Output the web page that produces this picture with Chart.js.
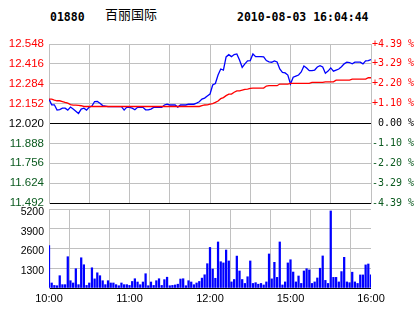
<!DOCTYPE html>
<html>
<head>
<meta charset="utf-8">
<script src="https://cdn.jsdelivr.net/npm/chart.js@4/dist/chart.umd.min.js"></script>
<style>
html,body{margin:0;padding:0;background:#fff;}
#wrap{position:relative;width:414px;height:314px;overflow:hidden;}
.layer{position:absolute;left:0;top:0;width:414px;height:314px;}
.hd{position:absolute;white-space:pre;color:#000;}
.mono{font-family:"DejaVu Sans Mono",monospace;font-weight:bold;font-size:11.5px;line-height:12px;top:11px;}
.cjk{font-family:"Noto Sans CJK SC",sans-serif;font-size:13px;line-height:13px;top:7px;}
</style>
</head>
<body>
<div id="wrap">
  <div class="hd mono" style="left:50px">01880</div>
  <div class="hd cjk" style="left:105px">百丽国际</div>
  <div class="hd mono" style="left:237px">2010-08-03 16:04:44</div>
  <div class="layer"><canvas id="priceChart" width="414" height="314"></canvas></div>
  <div class="layer"><canvas id="volChart" width="414" height="314"></canvas></div>
</div>
<script>
// ---- data (one point per 2 minutes of trading, 10:00-12:30 and 14:30-16:00) ----
const STEP_MIN = 2;
const prevClose = 12.020;

const price = [
 12.182,12.144,12.144,12.109,12.112,12.122,12.122,12.109,12.129,12.116,
 12.102,12.087,12.116,12.122,12.109,12.129,12.136,12.166,12.167,12.155,
 12.139,12.136,12.132,12.132,12.132,12.132,12.132,12.132,12.109,12.129,
 12.127,12.122,12.111,12.127,12.127,12.127,12.111,12.111,12.116,12.127,
 12.127,12.127,12.127,12.143,12.148,12.143,12.143,12.143,12.129,12.143,
 12.143,12.143,12.148,12.148,12.148,12.155,12.164,12.182,12.189,12.202,
 12.215,12.276,12.286,12.342,12.382,12.375,12.462,12.477,12.464,12.478,
 12.482,12.442,12.393,12.416,12.436,12.438,12.482,12.464,12.464,12.464,
 12.462,12.438,12.429,12.427,12.436,12.429,12.382,12.360,12.356,12.342,
 12.282,12.327,12.335,12.342,12.362,12.402,12.389,12.371,12.371,12.375,
 12.395,12.404,12.395,12.354,12.368,12.389,12.368,12.375,12.382,12.397,
 12.416,12.427,12.425,12.416,12.427,12.427,12.427,12.416,12.436,12.438,
 12.445
];

const avgPrice = [
 12.182,12.182,12.175,12.171,12.171,12.166,12.160,12.155,12.145,12.142,
 12.142,12.140,12.138,12.133,12.133,12.133,12.133,12.133,12.133,12.133,
 12.133,12.133,12.133,12.133,12.133,12.133,12.133,12.133,12.133,12.133,
 12.133,12.133,12.133,12.133,12.133,12.133,12.133,12.133,12.133,12.133,
 12.133,12.133,12.133,12.133,12.133,12.133,12.133,12.133,12.133,12.133,
 12.133,12.133,12.133,12.133,12.133,12.133,12.133,12.138,12.143,12.144,
 12.148,12.152,12.160,12.169,12.185,12.192,12.205,12.215,12.215,12.228,
 12.237,12.237,12.242,12.246,12.249,12.253,12.255,12.255,12.255,12.255,
 12.255,12.269,12.271,12.271,12.271,12.271,12.282,12.282,12.282,12.282,
 12.286,12.286,12.286,12.286,12.286,12.286,12.286,12.286,12.293,12.293,
 12.293,12.293,12.293,12.297,12.297,12.297,12.297,12.308,12.308,12.308,
 12.308,12.308,12.308,12.315,12.315,12.315,12.315,12.315,12.315,12.324,
 12.324
];

const volume = [
 2800,330,170,150,810,220,220,2060,480,330,
 1270,220,1990,1530,170,330,1330,600,1000,810,
 480,220,480,330,330,220,150,330,220,220,
 170,430,610,395,217,395,940,150,395,170,
 480,610,170,550,710,150,171,200,250,590,
 610,150,480,395,217,330,430,650,870,1600,
 2670,1250,640,3030,1730,1650,2500,1780,400,560,
 2100,1120,560,300,740,1780,300,350,250,300,
 200,400,2240,600,1690,700,3030,200,400,1650,
 1860,1050,400,790,300,1120,1270,1190,300,400,
 660,1300,2110,500,300,5070,700,700,400,1080,
 2020,400,350,1040,400,300,860,860,1520,1580,
 860
];

const priceTicks = [11.492,11.624,11.756,11.888,12.020,12.152,12.284,12.416,12.548];
const priceTickLabels = ["11.492","11.624","11.756","11.888","12.020","12.152","12.284","12.416","12.548"];
const pctTickLabels = ["-4.39 %","-3.29 %","-2.20 %","-1.10 %"," 0.00 %","+1.10 %","+2.20 %","+3.29 %","+4.39 %"];
const volTicks = [0,1300,2600,3900,5200];
const volTickLabels = ["","1300","2600","3900","5200"];
const timeTicks = [0,30,60,90,120,150,180,210,240];
const timeTickLabels = ["10:00","","11:00","","12:00","","15:00","","16:00"];

// ---- styles ----
const GRID = '#c0c0c0';
const RED = '#ff0000', GREEN = '#0b5a1f';
function tickColor(v){ return v > prevClose + 1e-9 ? RED : (v < prevClose - 1e-9 ? GREEN : '#000'); }

const pricePts = price.map((p,i)=>({x:i*STEP_MIN, y:p}));
const avgPts = avgPrice.map((p,i)=>({x:i*STEP_MIN, y:p}));
const volPts = volume.map((v,i)=>({x:i*STEP_MIN, y:v}));

new Chart(document.getElementById('priceChart'), {
  type: 'line',
  data: { datasets: [
    { data: avgPts, borderColor: RED, borderWidth: 1.3, pointRadius: 0, tension: 0, yAxisID: 'y' },
    { data: pricePts, borderColor: '#0000ff', borderWidth: 1.3, pointRadius: 0, tension: 0, yAxisID: 'y' }
  ]},
  options: {
    responsive: false, animation: false, devicePixelRatio: 1,
    layout: { padding: { top: 44, bottom: 111, left: 0, right: 0 } },
    plugins: { legend: { display: false }, tooltip: { enabled: false } },
    scales: {
      x: {
        type: 'linear', min: 0, max: 240,
        afterBuildTicks: s => { s.ticks = timeTicks.map(v=>({value:v})); },
        afterFit: s => { s.height = 0; },
        ticks: { display: false },
        grid: { color: GRID, drawTicks: false },
        border: { display: false }
      },
      y: {
        position: 'left', min: 11.492, max: 12.548,
        afterBuildTicks: s => { s.ticks = priceTicks.map(v=>({value:v})); },
        afterFit: s => { s.width = 49; },
        ticks: {
          callback: (v,i) => priceTickLabels[i],
          color: ctx => tickColor(priceTicks[ctx.index]),
          font: { family: 'Liberation Sans', size: 11.5 },
          padding: 5
        },
        grid: { color: ctx => (ctx.index === 0 || Math.abs(priceTicks[ctx.index]-prevClose) < 1e-9) ? '#000' : GRID, drawTicks: false },
        border: { color: GRID }
      },
      yR: {
        position: 'right', min: 11.492, max: 12.548,
        afterBuildTicks: s => { s.ticks = priceTicks.map(v=>({value:v})); },
        afterFit: s => { s.width = 43; },
        ticks: {
          callback: (v,i) => pctTickLabels[i],
          color: ctx => tickColor(priceTicks[ctx.index]),
          font: { family: 'DejaVu Sans Mono', size: 10 },
          padding: 1
        },
        grid: { display: false, drawTicks: false },
        border: { color: GRID }
      }
    }
  }
});

new Chart(document.getElementById('volChart'), {
  type: 'bar',
  data: { datasets: [
    { data: volPts, backgroundColor: '#0000ff', borderWidth: 0, barThickness: 1.6, grouped: false }
  ]},
  options: {
    responsive: false, animation: false, devicePixelRatio: 1,
    layout: { padding: { top: 209, bottom: 0, left: 0, right: 43 } },
    plugins: { legend: { display: false }, tooltip: { enabled: false } },
    scales: {
      x: {
        type: 'linear', min: 0, max: 240, offset: false,
        afterBuildTicks: s => { s.ticks = timeTicks.map(v=>({value:v})); },
        afterFit: s => { s.height = 26; },
        ticks: {
          callback: (v,i) => timeTickLabels[i],
          autoSkip: false, maxRotation: 0, minRotation: 0,
          color: '#000', font: { family: 'Liberation Sans', size: 11 }, padding: 4
        },
        grid: { color: GRID, drawTicks: false },
        border: { display: false }
      },
      y: {
        min: 0, max: 5200,
        afterBuildTicks: s => { s.ticks = volTicks.map(v=>({value:v})); },
        afterFit: s => { s.width = 49; },
        ticks: {
          callback: (v,i) => volTickLabels[i],
          color: '#000', font: { family: 'Liberation Sans', size: 10.5 }, padding: 5,
          labelOffset: 3
        },
        grid: { color: ctx => ctx.index === 0 ? '#000' : GRID, drawTicks: false },
        border: { color: GRID }
      }
    }
  }
});
</script>
</body>
</html>
